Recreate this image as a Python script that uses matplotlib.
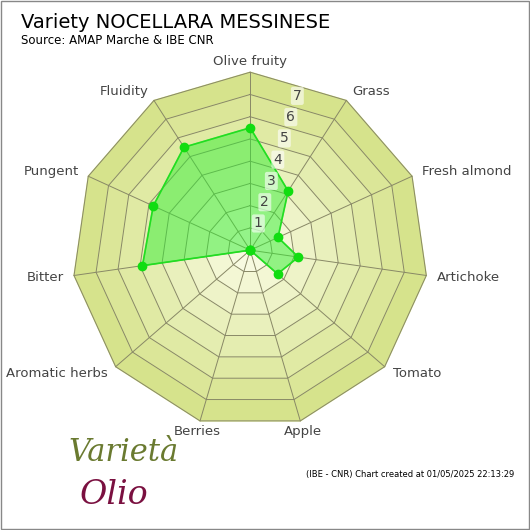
import matplotlib
matplotlib.use("Agg")
import matplotlib.pyplot as plt
import numpy as np

categories = ["Olive fruity", "Grass", "Fresh almond", "Artichoke", "Tomato", "Apple",
              "Berries", "Aromatic herbs", "Bitter", "Pungent", "Fluidity"]
values = [5.4, 3.1, 1.35, 2.15, 1.6, 0, 0, 0, 4.8, 4.7, 5.4]
ring_labels = ["1", "2", "3", "4", "5", "6", "7"]

fig = plt.figure(figsize=(5.3, 5.3), dpi=100)
fig.patch.set_facecolor("white")
ax = fig.add_axes([0.472 - 0.34, 0.528 - 0.34, 0.68, 0.68], polar=True)
ax.set_theta_zero_location("N")
ax.set_theta_direction(-1)
n = len(categories)
ang = np.linspace(0, 2 * np.pi, n, endpoint=False)
angc = np.append(ang, ang[0])
rmax = 7.95
outer = 7.85
ax.set_ylim(0, rmax)
ax.axis("off")

levels = [i * outer / 8 for i in range(1, 9)]
c0 = np.array([0.97, 0.98, 0.88]); c1 = np.array([0.84, 0.89, 0.55])
for i in range(len(levels) - 1, -1, -1):
    t = i / (len(levels) - 1)
    col = c0 * (1 - t) + c1 * t
    ax.fill(angc, [levels[i]] * (n + 1), color=col, zorder=1)
for lv in levels:
    ax.plot(angc, [lv] * (n + 1), color="#888866", lw=0.7, zorder=2)
for a in ang:
    ax.plot([a, a], [0, outer], color="#888866", lw=0.7, zorder=2)

vc = values + [values[0]]
ax.fill(angc, vc, color="#33ee33", alpha=0.5, zorder=3)
ax.plot(angc, vc, color="#22dd22", lw=1.2, zorder=4)
ax.plot(ang, values, "o", color="#11dd11", ms=6, zorder=5)

for i, lab in enumerate(ring_labels):
    r = levels[i] + 0.25
    ax.text(np.deg2rad(17), r, lab, fontsize=10, color="#444444", ha="center", va="center",
            zorder=6, bbox=dict(boxstyle="round,pad=0.15", fc="white", ec="none", alpha=0.6))

for a, lab in zip(ang, categories):
    d = np.rad2deg(a)
    ha = "center" if d < 5 or abs(d - 180) < 20 else ("left" if d < 180 else "right")
    ax.text(a, outer * 1.06, lab, fontsize=9.5, color="#444444", ha=ha, va="center")

fig.text(0.04, 0.975, "Variety NOCELLARA MESSINESE", fontsize=14, va="top")
fig.text(0.04, 0.935, "Source: AMAP Marche & IBE CNR", fontsize=8.5, va="top")
fig.text(0.97, 0.1, "(IBE - CNR) Chart created at 01/05/2025 22:13:29", fontsize=6, ha="right")
fig.text(0.13, 0.13, "Varietà", fontsize=22, style="italic", color="#6a7a30", family="DejaVu Serif")
fig.text(0.15, 0.05, "Olio", fontsize=24, style="italic", color="#7a1040", family="DejaVu Serif")
border = plt.Rectangle((0.002, 0.002), 0.996, 0.996, transform=fig.transFigure, fill=False, ec="#888888", lw=1)
fig.add_artist(border)
fig.savefig("out.png", dpi=100)
